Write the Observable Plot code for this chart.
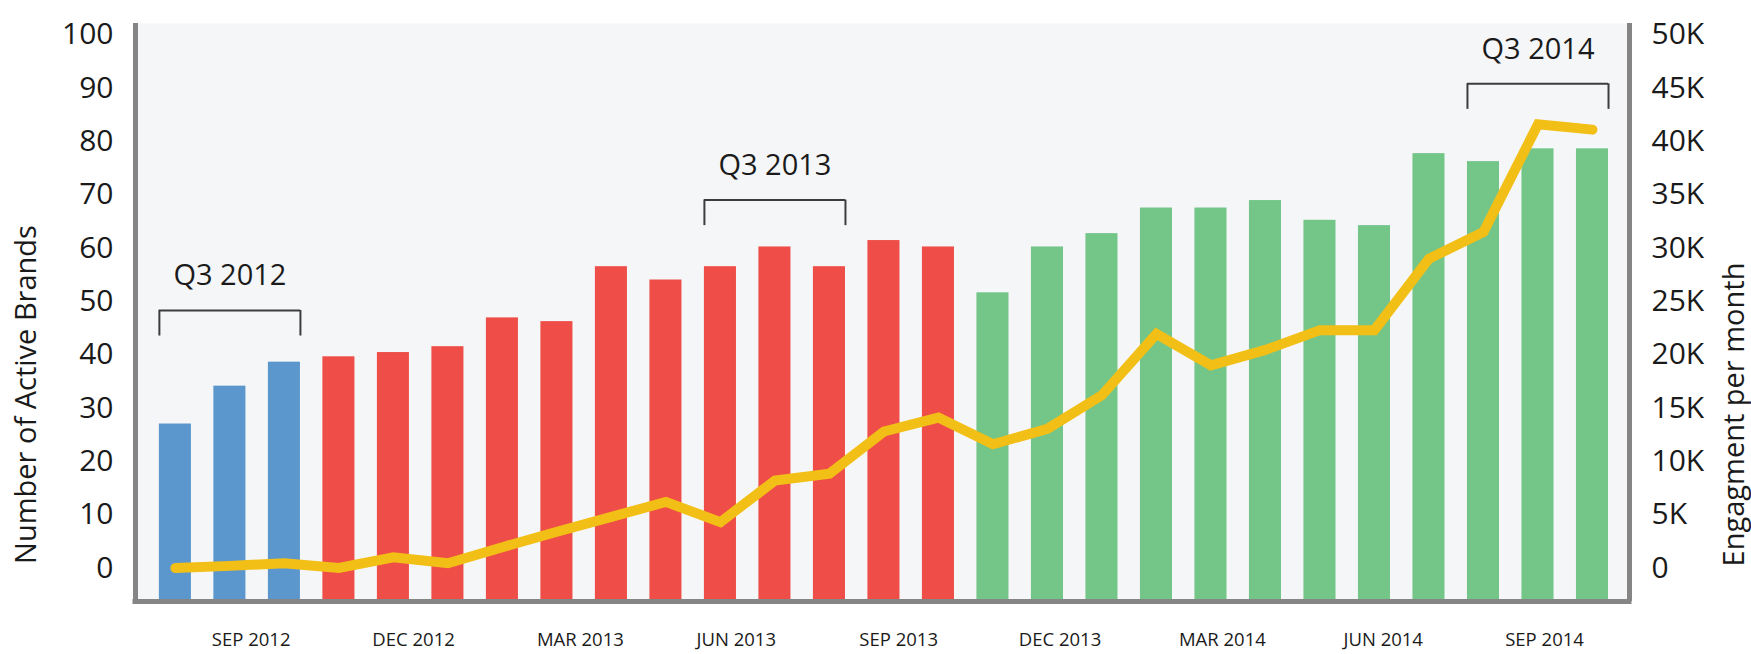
<!DOCTYPE html>
<html>
<head>
<meta charset="utf-8">
<script src="https://cdn.jsdelivr.net/npm/d3@7"></script>
<script src="https://cdn.jsdelivr.net/npm/@observablehq/plot@0.6"></script>
<style>
  html, body { margin: 0; padding: 0; background: #ffffff; }
  #chart svg { display: block; }
</style>
</head>
<body>
<div id="chart"></div>
<script>
// ---- data ----
const months = [
  "Jul 2012", "Aug 2012", "Sep 2012",
  "Oct 2012", "Nov 2012", "Dec 2012", "Jan 2013", "Feb 2013", "Mar 2013",
  "Apr 2013", "May 2013", "Jun 2013", "Jul 2013", "Aug 2013", "Sep 2013",
  "Oct 2013", "Nov 2013", "Dec 2013", "Jan 2014", "Feb 2014", "Mar 2014",
  "Apr 2014", "May 2014", "Jun 2014", "Jul 2014", "Aug 2014", "Sep 2014"
];
const fiscalYear = [
  "FY2012", "FY2012", "FY2012",
  "FY2013", "FY2013", "FY2013", "FY2013", "FY2013", "FY2013",
  "FY2013", "FY2013", "FY2013", "FY2013", "FY2013", "FY2013",
  "FY2014", "FY2014", "FY2014", "FY2014", "FY2014", "FY2014",
  "FY2014", "FY2014", "FY2014", "FY2014", "FY2014", "FY2014"
];
const activeBrands = [
  27.0, 34.1, 38.6,
  39.6, 40.4, 41.5, 46.9, 46.2, 56.5,
  54.0, 56.5, 60.2, 56.5, 61.4, 60.2,
  51.6, 60.2, 62.7, 67.5, 67.5, 68.9,
  65.2, 64.2, 77.7, 76.2, 78.6, 78.6
];
// engagement per month, in thousands
const engagementK = [
  0.0, 0.2, 0.45,
  0.0, 1.0, 0.45, 1.95, 3.4, 4.8,
  6.2, 4.3, 8.2, 8.85, 12.8, 14.1,
  11.6, 13.05, 16.2, 21.95, 19.0, 20.45,
  22.3, 22.3, 29.0, 31.5, 41.6, 41.1
];
const leftTicks = [0, 10, 20, 30, 40, 50, 60, 70, 80, 90, 100];
const rightTickLabels = ["0", "5K", "10K", "15K", "20K", "25K", "30K", "35K", "40K", "45K", "50K"];
const xTickLabels = ["SEP 2012", "DEC 2012", "MAR 2013", "JUN 2013", "SEP 2013", "DEC 2013", "MAR 2014", "JUN 2014", "SEP 2014"];
const xTickAt = [1.39, 4.37, 7.43, 10.29, 13.27, 16.23, 19.21, 22.16, 25.12]; // in month-index units
const quarterLabels = ["Q3 2012", "Q3 2013", "Q3 2014"];
const quarterFirst = [0, 10, 24];
const quarterLast = [2, 12, 26];
const quarterBracketLevel = [48.3, 69.0, 90.8];
const quarterLabelLevel = [54.9, 75.5, 97.2];

// ---- styling ----
const fyColors = ["#5b97cd", "#ef4d47", "#73c588"];
const lineColor = "#f2bf16";
const axisGray = "#858585";
const textColor = "#1a1a1a";
const half = 0.294;          // bar half-width in month units
const bracketDrop = 4.8;     // bracket leg length, in left-axis units
const yDomain = [-6.28, 102.1];
const xDomain = [-0.732, 26.679];

const rows = months.map((m, i) => ({i, month: m, fy: fiscalYear[i], brands: activeBrands[i], eng: engagementK[i]}));
const quarters = quarterLabels.map((q, k) => ({
  label: q, first: quarterFirst[k], last: quarterLast[k],
  level: quarterBracketLevel[k], textLevel: quarterLabelLevel[k]
}));
const bracketLegs = quarters.flatMap(q => [
  {x: q.first - half, y1: q.level, y2: q.level - bracketDrop},
  {x: q.last + half, y1: q.level, y2: q.level - bracketDrop}
]);

const chart = Plot.plot({
  width: 1751,
  height: 654,
  marginLeft: 135,
  marginRight: 122,
  marginTop: 23,
  marginBottom: 53,
  style: {fontFamily: "'Open Sans', 'Noto Sans', sans-serif", background: "#ffffff", color: textColor},
  x: {type: "linear", domain: xDomain, axis: null},
  y: {domain: yDomain, axis: null},
  color: {domain: ["FY2012", "FY2013", "FY2014"], range: fyColors},
  marks: [
    Plot.frame({fill: "#f5f6f8", stroke: "none"}),
    Plot.rectY(rows, {x1: d => d.i - half, x2: d => d.i + half, y1: () => yDomain[0], y2: "brands", fill: "fy"}),
    Plot.line(rows, {x: "i", y: d => d.eng * 2, stroke: lineColor, strokeWidth: 10, strokeLinecap: "round", strokeLinejoin: "miter", strokeMiterlimit: 4}),
    // brackets
    Plot.ruleY(quarters, {y: "level", x1: d => d.first - half, x2: d => d.last + half, stroke: "#3c3c3c", strokeWidth: 2}),
    Plot.ruleX(bracketLegs, {x: "x", y1: "y1", y2: "y2", stroke: "#3c3c3c", strokeWidth: 2}),
    Plot.text(quarters, {x: d => (d.first + d.last) / 2, y: "textLevel", text: "label", fontSize: 29, fill: textColor, lineAnchor: "middle"}),
    // axis lines
    Plot.ruleX([xDomain[0], xDomain[1]], {stroke: axisGray, strokeWidth: 5}),
    Plot.ruleY([yDomain[0]], {stroke: axisGray, strokeWidth: 5, strokeLinecap: "square"}),
    // axes
    Plot.axisY(leftTicks, {anchor: "left", tickSize: 0, tickPadding: 22, fontSize: 30, fill: textColor, label: null}),
    Plot.axisY(leftTicks, {anchor: "right", tickSize: 0, tickPadding: 22, fontSize: 30, fill: textColor, label: null,
      tickFormat: d => rightTickLabels[leftTicks.indexOf(d)]}),
    Plot.axisX(xTickAt, {anchor: "bottom", tickSize: 0, tickPadding: 31, fontSize: 18.5, fill: textColor, label: null,
      tickFormat: d => xTickLabels[xTickAt.indexOf(d)]}),
    // axis titles
    Plot.text(["Number of Active Brands"], {frameAnchor: "left", textAnchor: "middle", rotate: -90, dx: -109, dy: 82, fontSize: 29, fill: textColor, lineAnchor: "middle"}),
    Plot.text(["Engagment per month"], {frameAnchor: "right", textAnchor: "middle", rotate: -90, dx: 105, dy: 102, fontSize: 29, fill: textColor, lineAnchor: "middle"})
  ]
});
document.getElementById("chart").appendChild(chart);
</script>
</body>
</html>
